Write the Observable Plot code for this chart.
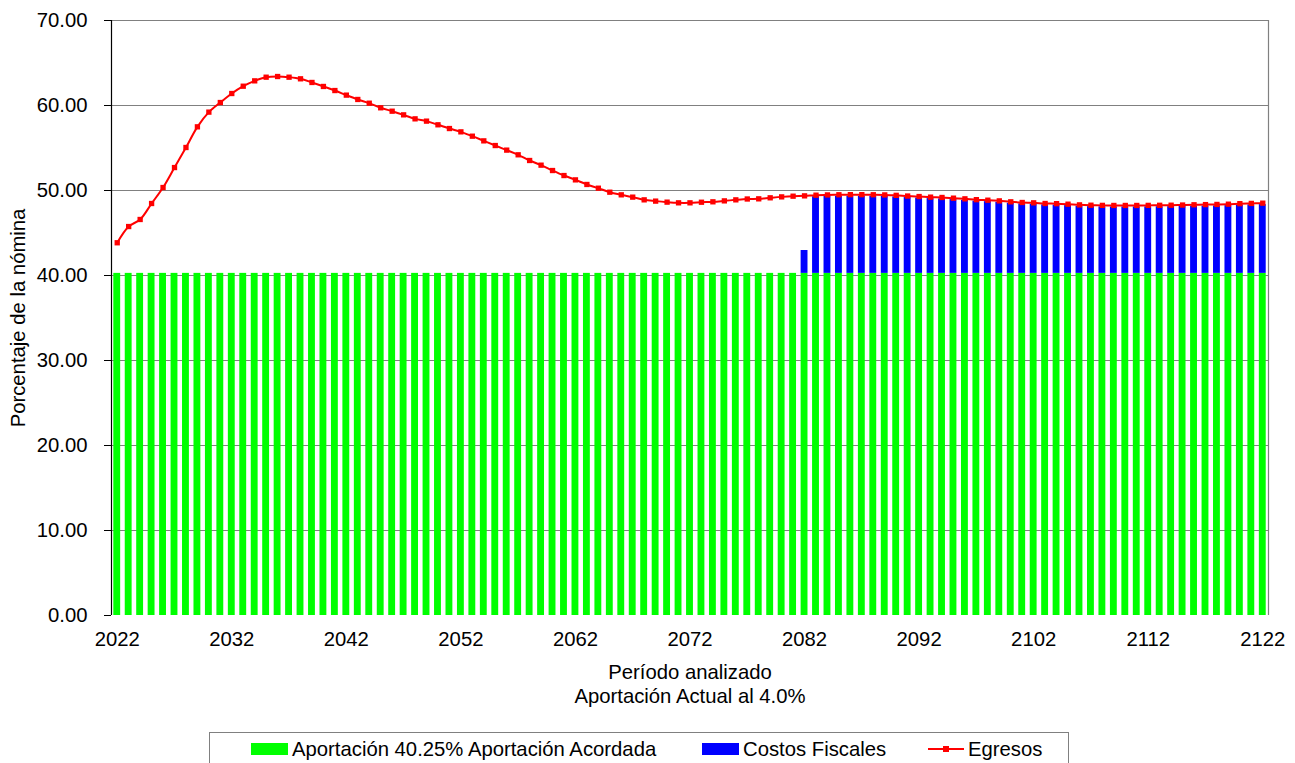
<!DOCTYPE html>
<html>
<head>
<meta charset="utf-8">
<script src="https://cdn.jsdelivr.net/npm/d3@7"></script>
<script src="https://cdn.jsdelivr.net/npm/@observablehq/plot@0.6"></script>
<style>
  body { margin: 0; background: #fff; font-family: "Liberation Sans", Arial, sans-serif; }
  #wrap { position: relative; width: 1295px; height: 763px; overflow: hidden; background: #fff; }
  #legend { position: absolute; left: 209px; top: 732px; width: 860px; height: 44px; border: 1px solid #808080; box-sizing: border-box; font-size: 20.3px; color: #000; }
  .sw { position: absolute; top: 10px; width: 37px; height: 12px; }
  .lbl { position: absolute; top: 5px; line-height: 22px; white-space: nowrap; }
  .ln { position: absolute; top: 15px; width: 36px; height: 2px; background: #ff0000; }
  .mk { position: absolute; top: 13px; width: 6px; height: 6px; background: #ff0000; }
</style>
</head>
<body>
<div id="wrap">
  <div id="chart"></div>
  <div id="legend">
    <div class="sw" style="left:41px;background:#00ff00"></div>
    <div class="lbl" style="left:82px">Aportación 40.25% Aportación Acordada</div>
    <div class="sw" style="left:492px;background:#0000ff"></div>
    <div class="lbl" style="left:533px">Costos Fiscales</div>
    <div class="ln" style="left:718px"></div>
    <div class="mk" style="left:733px"></div>
    <div class="lbl" style="left:758px">Egresos</div>
  </div>
</div>
<script>
// ---- data ----
const years = d3.range(2022, 2123);
const aportacionRate = 40.25;
const aportacion = Array(years.length).fill(aportacionRate);
const egresos = [
  43.85, 45.76, 46.59, 48.47, 50.35, 52.70, 55.06, 57.49, 59.22, 60.35,
  61.41, 62.27, 62.90, 63.33, 63.41, 63.33, 63.14, 62.71, 62.24, 61.76,
  61.22, 60.71, 60.27, 59.73, 59.33, 58.90, 58.43, 58.16, 57.73, 57.29,
  56.90, 56.39, 55.84, 55.29, 54.75, 54.20, 53.53, 52.98, 52.35, 51.76,
  51.25, 50.71, 50.27, 49.80, 49.49, 49.22, 48.90, 48.75, 48.63, 48.55,
  48.55, 48.62, 48.67, 48.78, 48.90, 49.00, 49.02, 49.14, 49.25, 49.33,
  49.37, 49.45, 49.48, 49.50, 49.51, 49.51, 49.50, 49.48, 49.43, 49.35,
  49.29, 49.22, 49.18, 49.10, 49.02, 48.92, 48.86, 48.78, 48.67, 48.59,
  48.55, 48.47, 48.45, 48.39, 48.31, 48.27, 48.25, 48.24, 48.24, 48.24,
  48.25, 48.26, 48.27, 48.29, 48.32, 48.34, 48.36, 48.39, 48.45, 48.48,
  48.51
];
const costosStart = 2082;
const costos = [
  2.69, 9.02, 9.05, 9.07, 9.08, 9.08, 9.07, 9.06, 9.00, 8.92,
  8.87, 8.80, 8.76, 8.68, 8.60, 8.50, 8.44, 8.36, 8.26, 8.18,
  8.14, 8.06, 8.03, 7.97, 7.89, 7.85, 7.83, 7.82, 7.82, 7.82,
  7.83, 7.84, 7.85, 7.87, 7.90, 7.92, 7.94, 7.97, 8.03, 8.06,
  8.09
];
const xTicks = [2022, 2032, 2042, 2052, 2062, 2072, 2082, 2092, 2102, 2112, 2122];
const yTicks = [0, 10, 20, 30, 40, 50, 60, 70];
const xTitle = "Período analizado\nAportación Actual al 4.0%";
const yTitle = "Porcentaje de la nómina";

// ---- tables ----
const rows = years.map((year, i) => ({year, aportacion: aportacion[i], egresos: egresos[i]}));
const costRows = costos.map((c, i) => {
  const year = costosStart + i;
  const base = aportacion[years.indexOf(year)];
  return {year, base, top: base + c};
});
const half = 0.3;

const chart = Plot.plot({
  width: 1295,
  height: 725,
  marginTop: 20,
  marginBottom: 110,
  marginLeft: 111,
  marginRight: 27,
  style: {fontFamily: '"Liberation Sans", Arial, sans-serif', fontSize: "20.3px", background: "white", color: "black", overflow: "visible"},
  x: {domain: [2021.5, 2122.5], ticks: xTicks, tickFormat: "d", tickSize: 0, tickPadding: 16, label: null},
  y: {domain: [0, 70], ticks: yTicks, tickFormat: d => d.toFixed(2), tickSize: 7, tickPadding: 17, label: null},
  marks: [
    Plot.ruleY(yTicks.filter(d => d > 0), {stroke: "#808080", strokeWidth: 1}),
    Plot.rect(rows, {x1: d => d.year - half, x2: d => d.year + half, y1: 0, y2: "aportacion", fill: "#00ff00"}),
    Plot.rect(costRows, {x1: d => d.year - half, x2: d => d.year + half, y1: "base", y2: "top", fill: "#0000ff"}),
    Plot.ruleX([2021.5], {stroke: "black", strokeWidth: 1.2}),
    Plot.ruleX([2122.5], {stroke: "#808080", strokeWidth: 1.2}),
    Plot.line(rows, {x: "year", y: "egresos", stroke: "#ff0000", strokeWidth: 2, curve: "catmull-rom"}),
    Plot.dot(rows, {x: "year", y: "egresos", symbol: "square", r: 3, fill: "#ff0000", stroke: "none"}),
    Plot.text([xTitle], {text: d => d, frameAnchor: "bottom", textAnchor: "middle", lineAnchor: "top", dy: 46, lineHeight: 1.2, fontSize: 20.3}),
    Plot.text([yTitle], {text: d => d, frameAnchor: "left", textAnchor: "middle", rotate: -90, dx: -93, fontSize: 20.3})
  ]
});
document.getElementById("chart").appendChild(chart);
</script>
</body>
</html>
